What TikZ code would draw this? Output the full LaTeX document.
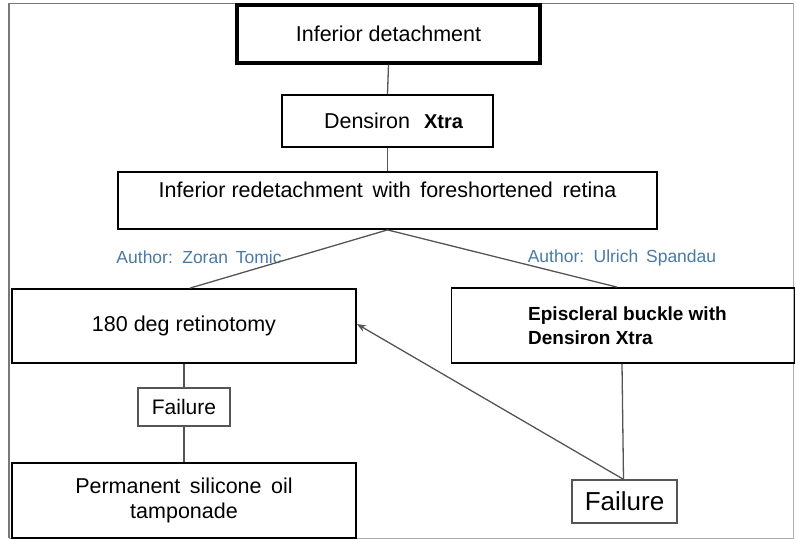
\documentclass[tikz,border=0pt]{standalone}
\usepackage{fontspec}
\setmainfont{Liberation Sans}
\usetikzlibrary{arrows.meta}
\definecolor{authorblue}{RGB}{72,122,165}
\definecolor{linkgray}{RGB}{85,85,85}
\definecolor{framegray}{RGB}{120,120,120}
\tikzset{
  box/.style={draw=black, line width=1.8pt, rectangle, inner sep=0pt, align=center,
    font=\fontsize{21.5}{25}\selectfont},
  thickbox/.style={box, line width=3.2pt},
  failbox/.style={draw=linkgray, line width=1.3pt, rectangle, inner sep=0pt},
  author/.style={text=authorblue, inner sep=0pt, font=\fontsize{17.5}{20}\selectfont},
  link/.style={draw=linkgray, line width=1.3pt},
}
\begin{document}
\begin{tikzpicture}[x=1pt,y=-1pt]
\useasboundingbox (0,0) rectangle (796,540);
% outer frame
\draw[framegray, line width=1.4pt] (9,3.5) -- (793,3.5);
\draw[framegray, line width=1.4pt] (9,3.5) -- (9,538);
\draw[framegray!60, line width=1pt] (793,3.5) -- (793,538) -- (9,538);

% boxes
\node[thickbox, minimum width=303pt, minimum height=58pt] (id) at (388.5,34) {Inferior detachment};
\node[box, minimum width=211pt, minimum height=52pt] (dx) at (387.5,121)
  {\hspace*{12pt}Densiron\hspace{14pt}{\bfseries\fontsize{20}{24}\selectfont Xtra}};
\node[box, minimum width=539pt, text height=25.5pt, text depth=31.5pt] (ir) at (387.5,200.5)
  {Inferior redetachment\, with\, foreshortened\, retina};
\node[box, minimum width=344pt, minimum height=74pt] (rt) at (184,326) {180 deg retinotomy};
\node[box, minimum width=343pt, minimum height=75pt] (eb) at (623,325.5) {};
\node[inner sep=0pt, align=left, anchor=west,
  font=\bfseries\fontsize{19}{24}\selectfont] (ebt) at (528,325.5)
  {Episcleral buckle with\\Densiron Xtra};
\node[failbox, minimum width=92pt, minimum height=38pt,
  font=\fontsize{21}{25}\selectfont] (f1) at (184,407) {Failure};
\node[box, minimum width=344pt, minimum height=75pt] (pso) at (184,500.5)
  {Permanent\, silicone\, oil\\tamponade};
\node[failbox, minimum width=105pt, minimum height=43pt,
  font=\fontsize{26}{30}\selectfont] (f2) at (624.5,501.5) {Failure};

% author labels
\node[author] (a1) at (199,257) {Author:\, Zoran\, Tomic};
\node[author] (a2) at (622,258) {Author:\, Ulrich\, Spandau};

% connectors
\draw[link] (id.south) -- (dx.north);
\draw[link] (dx.south) -- (ir.north);
\draw[link] (ir.south) -- ([xshift=6pt]rt.north);
\draw[link] (ir.south) -- ([xshift=-6pt]eb.north);
\draw[link] (rt.south) -- (f1.north);
\draw[link] (f1.south) -- (pso.north);
\draw[link] ([xshift=-1pt]eb.south) -- ([xshift=-1pt]f2.north);
\draw[link, -{Stealth[length=9pt,width=7pt]}] ([xshift=-1pt]f2.north) -- ([yshift=2pt]rt.east);
\end{tikzpicture}
\end{document}
